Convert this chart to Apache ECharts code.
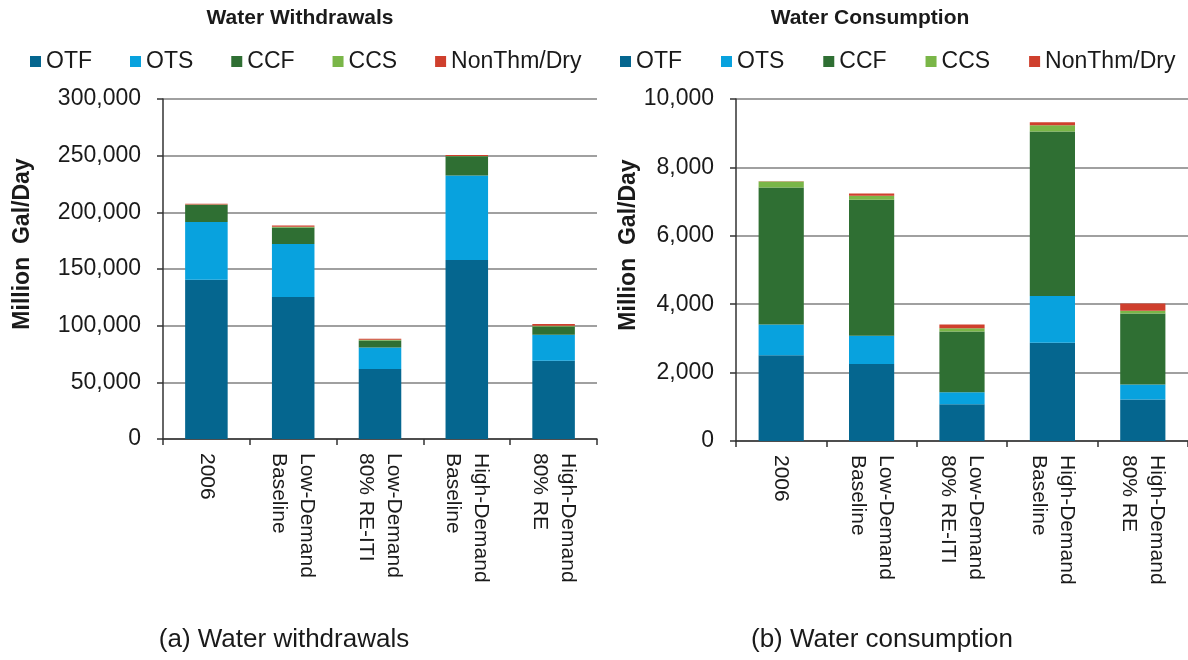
<!DOCTYPE html>
<html><head><meta charset="utf-8">
<script src="https://cdn.jsdelivr.net/npm/echarts@6/dist/echarts.min.js"></script>
<style>html,body{margin:0;padding:0;background:#fff}#c{width:1188px;height:660px}</style>
</head><body><div id="c"></div>
<script>
const categories = ['2006', 'Low-Demand\nBaseline', 'Low-Demand\n80% RE-ITI', 'High-Demand\nBaseline', 'High-Demand\n80% RE'];
const seriesNames = ['OTF', 'OTS', 'CCF', 'CCS', 'NonThm/Dry'];
// Water withdrawals (million gal/day)
const wOTF = [140500, 125200, 61700, 157900, 69000];
const wOTS = [50900, 46800, 19100, 74600, 23000];
const wCCF = [15200, 14600, 6200, 17000, 7300];
const wCCS = [300, 600, 500, 300, 600];
const wNon = [600, 1200, 900, 700, 1500];
// Water consumption (million gal/day)
const cOTF = [2510, 2255, 1075, 2870, 1212];
const cOTS = [900, 820, 350, 1367, 439];
const cCCF = [4000, 3982, 1778, 4811, 2079];
const cCCS = [175, 117, 97, 188, 77];
const cNon = [10, 60, 108, 87, 216];
const wTicks = {min: 0, max: 300000, interval: 50000};
const cTicks = {min: 0, max: 10000, interval: 2000};

const colors = ['#05668f', '#08a2de', '#2f6f33', '#7ab648', '#cf3f2d'];
const FONT = 'Liberation Sans, Arial, sans-serif';
const chart = echarts.init(document.getElementById('c'));

function fmt(v){ return Number(v).toLocaleString('en-US'); }

function xAxis(gi){
  return {
    type: 'category', gridIndex: gi, data: categories,
    axisLine: {lineStyle: {color: '#333', width: 1.5}},
    axisTick: {show: true, length: 6, lineStyle: {color: '#333', width: 1.5}},
    axisLabel: {rotate: -90, margin: 14, fontSize: 21, color: '#1a1a1a', fontFamily: FONT, lineHeight: 28, interval: 0}
  };
}
function yAxis(gi, t, gap){
  return {
    type: 'value', gridIndex: gi, min: t.min, max: t.max, interval: t.interval,
    name: 'Million  Gal/Day', nameLocation: 'middle', nameRotate: 90, nameGap: gap,
    nameTextStyle: {fontSize: 23, fontWeight: 'bold', color: '#1a1a1a', fontFamily: FONT, padding: [0, 0, 0, 50]},
    axisLine: {show: true, lineStyle: {color: '#333', width: 1.5}},
    axisTick: {show: true, length: 6, lineStyle: {color: '#333', width: 1.5}},
    axisLabel: {fontSize: 23, color: '#1a1a1a', fontFamily: FONT, margin: 22, formatter: fmt},
    splitLine: {show: true, lineStyle: {color: '#a0a0a0', width: 2}}
  };
}
const wData = [wOTF, wOTS, wCCF, wCCS, wNon];
const cData = [cOTF, cOTS, cCCF, cCCS, cNon];
const series = [];
seriesNames.forEach((n, i) => {
  series.push({name: n, type: 'bar', stack: 'w', xAxisIndex: 0, yAxisIndex: 0, data: wData[i], barWidth: '49%', itemStyle: {color: colors[i]}});
});
seriesNames.forEach((n, i) => {
  series.push({name: n, type: 'bar', stack: 'c', xAxisIndex: 1, yAxisIndex: 1, data: cData[i], barWidth: '50%', itemStyle: {color: colors[i]}});
});
function legend(left, gap){
  return {left: left, top: 50, itemWidth: 11, itemHeight: 11, itemGap: gap, icon: 'rect', padding: 0,
    textStyle: {fontSize: 23, color: '#1a1a1a', fontFamily: FONT}, data: seriesNames, selectedMode: false};
}
chart.setOption({
  animation: false,
  color: colors,
  title: [
    {text: 'Water Withdrawals', left: 300, top: 8, textAlign: 'center', padding: 0, textStyle: {fontSize: 21, fontWeight: 'bold', color: '#1a1a1a', fontFamily: FONT}},
    {text: 'Water Consumption', left: 870, top: 8, textAlign: 'center', padding: 0, textStyle: {fontSize: 21, fontWeight: 'bold', color: '#1a1a1a', fontFamily: FONT}},
    {text: '(a) Water withdrawals', left: 284, top: 627, textAlign: 'center', padding: 0, textStyle: {fontSize: 26, fontWeight: 'normal', color: '#1a1a1a', fontFamily: FONT}},
    {text: '(b) Water consumption', left: 882, top: 627, textAlign: 'center', padding: 0, textStyle: {fontSize: 26, fontWeight: 'normal', color: '#1a1a1a', fontFamily: FONT}}
  ],
  legend: [legend(30, 38), legend(620, 39)],
  grid: [
    {left: 163, top: 99, width: 434, height: 340},
    {left: 736, top: 99, width: 458, height: 342}
  ],
  xAxis: [xAxis(0), xAxis(1)],
  yAxis: [yAxis(0, wTicks, 129), yAxis(1, cTicks, 90)],
  series: series
});
</script></body></html>
